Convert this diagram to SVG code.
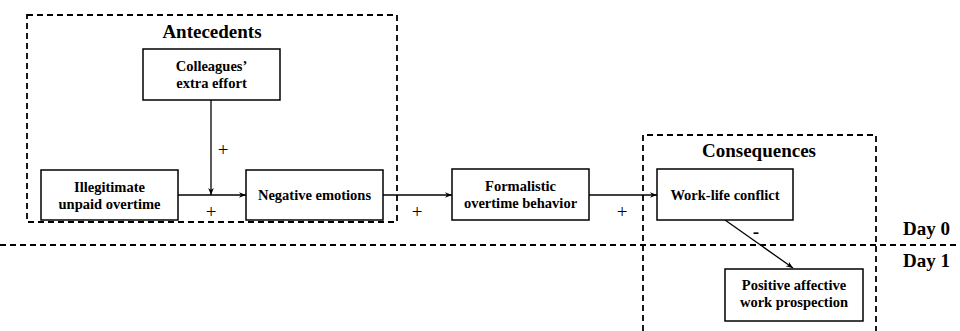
<svg xmlns="http://www.w3.org/2000/svg" width="960" height="331" viewBox="0 0 960 331">
<defs>
<marker id="ah" viewBox="0 0 10 10" refX="10" refY="5" markerWidth="7" markerHeight="7" markerUnits="userSpaceOnUse" orient="auto">
<path d="M0,1 L10,5 L0,9 L3,5 z" fill="#000"/>
</marker>
<style>
.box{fill:#fff;stroke:#000;stroke-width:1.5}
.dash{fill:none;stroke:#000;stroke-width:1.8;stroke-dasharray:6,4}
.t{font-family:"Liberation Serif","Times New Roman",serif;font-weight:bold;font-size:14.5px;text-anchor:middle;fill:#000}
.h{font-family:"Liberation Serif","Times New Roman",serif;font-weight:bold;font-size:19px;text-anchor:middle;fill:#000}
.d{font-family:"Liberation Serif","Times New Roman",serif;font-weight:bold;font-size:19px;fill:#000}
.s{font-family:"Liberation Serif","Times New Roman",serif;font-size:19px;text-anchor:middle;fill:#000}
.c{fill:none;stroke:#000;stroke-width:1.3}
</style>
</defs>
<rect width="960" height="331" fill="#fff"/>
<g id="antecedents-group">
<rect class="dash" x="27" y="15" width="370" height="207"/>
<text class="h" x="212" y="38">Antecedents</text>
</g>
<g id="consequences-group">
<path class="dash" d="M643,331 L643,135 L876,135 L876,331"/>
<text class="h" x="759" y="157">Consequences</text>
</g>
<g id="day-divider">
<line class="dash" x1="0" y1="245" x2="960" y2="245" style="stroke-width:2"/>
<text class="d" x="903" y="235">Day 0</text>
<text class="d" x="903" y="267">Day 1</text>
</g>
<g id="connectors">
<line class="c" x1="178" y1="195" x2="246" y2="195" marker-end="url(#ah)"/>
<line class="c" x1="211" y1="100" x2="211" y2="195" marker-end="url(#ah)"/>
<line class="c" x1="383" y1="195" x2="452" y2="195" marker-end="url(#ah)"/>
<line class="c" x1="589" y1="195" x2="657" y2="195" marker-end="url(#ah)"/>
<line class="c" x1="725" y1="220" x2="793" y2="268" marker-end="url(#ah)"/>
<text class="s" x="223" y="156">+</text>
<text class="s" x="211" y="218">+</text>
<text class="s" x="417" y="218">+</text>
<text class="s" x="622" y="218">+</text>
<text class="s" x="756" y="238" style="font-weight:bold">-</text>
</g>
<g id="colleagues">
<rect class="box" x="143" y="49" width="137" height="51"/>
<text class="t" x="211.5" y="71">Colleagues’</text>
<text class="t" x="211.5" y="88">extra effort</text>
</g>
<g id="illegitimate">
<rect class="box" x="41" y="170" width="137" height="50"/>
<text class="t" x="109.5" y="192">Illegitimate</text>
<text class="t" x="109.5" y="209">unpaid overtime</text>
</g>
<g id="negative">
<rect class="box" x="246" y="170" width="137" height="50"/>
<text class="t" x="314.5" y="200">Negative emotions</text>
</g>
<g id="formalistic">
<rect class="box" x="452" y="169" width="137" height="51"/>
<text class="t" x="520.5" y="191">Formalistic</text>
<text class="t" x="520.5" y="208">overtime behavior</text>
</g>
<g id="worklife">
<rect class="box" x="657" y="169" width="136" height="51"/>
<text class="t" x="725" y="200">Work-life conflict</text>
</g>
<g id="positive">
<rect class="box" x="725" y="269" width="138" height="52"/>
<text class="t" x="794" y="290">Positive affective</text>
<text class="t" x="794" y="307">work prospection</text>
</g>
</svg>
